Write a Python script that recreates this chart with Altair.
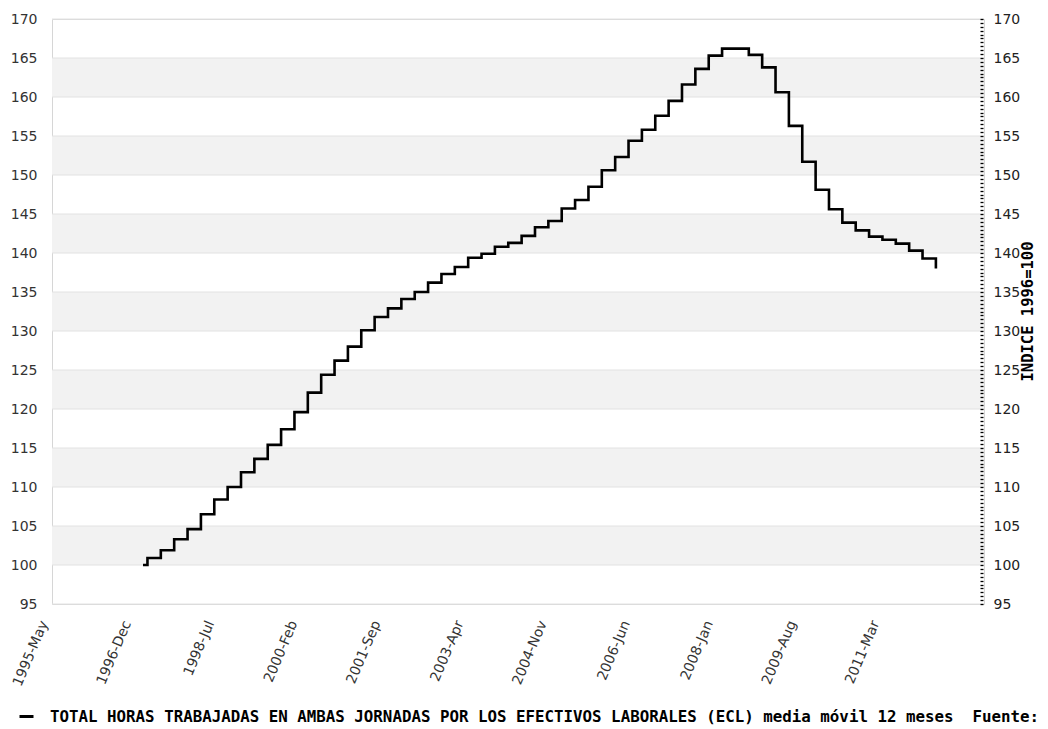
import altair as alt
import pandas as pd

# ---------------- data ----------------
series_name = ("TOTAL HORAS TRABAJADAS EN AMBAS JORNADAS POR LOS EFECTIVOS "
               "LABORALES (ECL) media móvil 12 meses \u00a0Fuente:")
y_title = "INDICE 1996=100"

# first value (12-month average of 1996 = 100), December 1996
start_year, start_month = 1996, 12
start_value = 100.0

# quarterly levels of the 12-month moving average, from 1997-Jan to 2011-Oct
quarter_values = [
    100.9, 101.9, 103.3, 104.6, 106.5, 108.4, 110.0, 111.9, 113.6, 115.4,
    117.4, 119.6, 122.1, 124.4, 126.2, 128.0, 130.1, 131.8, 132.9, 134.1,
    135.0, 136.2, 137.3, 138.2, 139.4, 139.9, 140.8, 141.3, 142.2, 143.3,
    144.1, 145.7, 146.8, 148.5, 150.6, 152.3, 154.4, 155.8, 157.6, 159.5,
    161.6, 163.6, 165.3, 166.2, 166.2, 165.4, 163.8, 160.6, 156.3, 151.7,
    148.1, 145.6, 143.9, 142.9, 142.1, 141.7, 141.2, 140.3, 139.3, 138.0,
]

# x axis tick labels (every 19 months from 1995-May)
tick_labels = ["1995-May", "1996-Dec", "1998-Jul", "2000-Feb", "2001-Sep",
               "2003-Apr", "2004-Nov", "2006-Jun", "2008-Jan", "2009-Aug",
               "2011-Mar"]
tick_step = 19
base_year, base_month = 1995, 5

y_ticks = [95, 100, 105, 110, 115, 120, 125, 130, 135, 140, 145, 150, 155,
           160, 165, 170]
band_lo = [100, 110, 120, 130, 140, 150, 160]
band_hi = [105, 115, 125, 135, 145, 155, 165]

# ---------------- tables ----------------
def month_index(year, month):
    return (year - base_year) * 12 + (month - base_month)

first = month_index(start_year, start_month)
xs = [first] + [first + 1 + 3 * k for k in range(len(quarter_values))]
vals = [start_value] + quarter_values
df = pd.DataFrame({"m": xs, "v": vals, "serie": series_name})

tick_index = [tick_step * k for k in range(len(tick_labels))]
tick_df = pd.DataFrame({"m": tick_index})
band_df = pd.DataFrame({"lo": band_lo, "hi": band_hi})
grid_df = pd.DataFrame({"g": y_ticks})
minor_ticks = [95 + 0.5 * k for k in range(151)]

FONT = "DejaVu Sans"
LABEL_COLOR = "#333333"

yscale = alt.Scale(domain=[95, 170], nice=False, zero=False)

bands = alt.Chart(band_df).mark_rect(color="#f2f2f2").encode(
    y=alt.Y("lo:Q", scale=yscale, axis=None),
    y2="hi:Q",
)

grid = alt.Chart(grid_df).mark_rule(color="#e2e2e2", strokeWidth=1).encode(
    y=alt.Y("g:Q", scale=yscale, axis=None)
)

label_expr = "[" + ",".join("'%s'" % t for t in tick_labels) + "][round(datum.value / %d)]" % tick_step

xlab = alt.Chart(tick_df).mark_point(opacity=0).encode(
    x=alt.X("m:Q",
            scale=alt.Scale(domain=[0, 213], nice=False, zero=False),
            axis=alt.Axis(values=tick_index, labelExpr=label_expr,
                          labelAngle=-67, labelAlign="right",
                          labelBaseline="middle", labelOffset=-8,
                          labelPadding=17, ticks=False, domain=False,
                          grid=False, title=None, labelFontSize=14,
                          labelFont=FONT, labelColor=LABEL_COLOR,
                          labelFlush=False, labelOverlap=False,
                          labelBound=False)),
)

right = alt.Chart(df).mark_point(opacity=0).encode(
    y=alt.Y("v:Q", scale=yscale,
            axis=alt.Axis(orient="right", values=minor_ticks,
                          labelExpr="datum.value % 5 == 0 ? format(datum.value, 'd') : ''",
                          tickSize=3, tickColor="#000000", tickWidth=1.3,
                          tickRound=True, zindex=1,
                          domain=False, grid=False, offset=-4,
                          labelPadding=10, labelFontSize=14, labelFont=FONT,
                          labelColor="#222222", labelOverlap=False,
                          labelFlush=False, labelBound=False,
                          title=y_title, titleFont="DejaVu Sans Mono",
                          titleFontWeight="bold", titleFontSize=15.5,
                          titleColor="#000000", titleAngle=270,
                          titleX=47, titleY=292, titleAlign="center",
                          titleBaseline="middle")),
)

line = alt.Chart(df).mark_line(interpolate="step-after", strokeWidth=2.6).encode(
    x=alt.X("m:Q", scale=alt.Scale(domain=[-1.43, 207.8], nice=False, zero=False),
            axis=None),
    y=alt.Y("v:Q", scale=yscale,
            axis=alt.Axis(orient="left", values=y_ticks, grid=False,
                          ticks=False, domain=False, labelPadding=15,
                          labelFontSize=14, labelFont=FONT,
                          labelColor=LABEL_COLOR, labelFlush=False,
                          labelOverlap=False, title=None)),
    color=alt.Color("serie:N", scale=alt.Scale(range=["#000000"]),
                    legend=alt.Legend(title=None, orient="none",
                                      legendX=-34, legendY=689,
                                      symbolType="stroke", symbolSize=196,
                                      symbolStrokeWidth=3,
                                      labelFont="DejaVu Sans Mono",
                                      labelFontWeight="bold",
                                      labelFontSize=15.8, labelColor="#000000",
                                      labelLimit=2000, labelOffset=15,
                                      padding=0)),
)

chart = alt.layer(bands, grid, xlab, right, line).resolve_scale(
    x="independent"
).properties(
    width=932, height=585,
    autosize=alt.AutoSizeParams(type="none"),
    padding={"left": 44, "top": 11, "right": 56, "bottom": 124},
).configure_view(stroke="#d6d6d6", strokeWidth=1)

chart.save("out.html", embed_options={"renderer": "svg", "actions": False})
